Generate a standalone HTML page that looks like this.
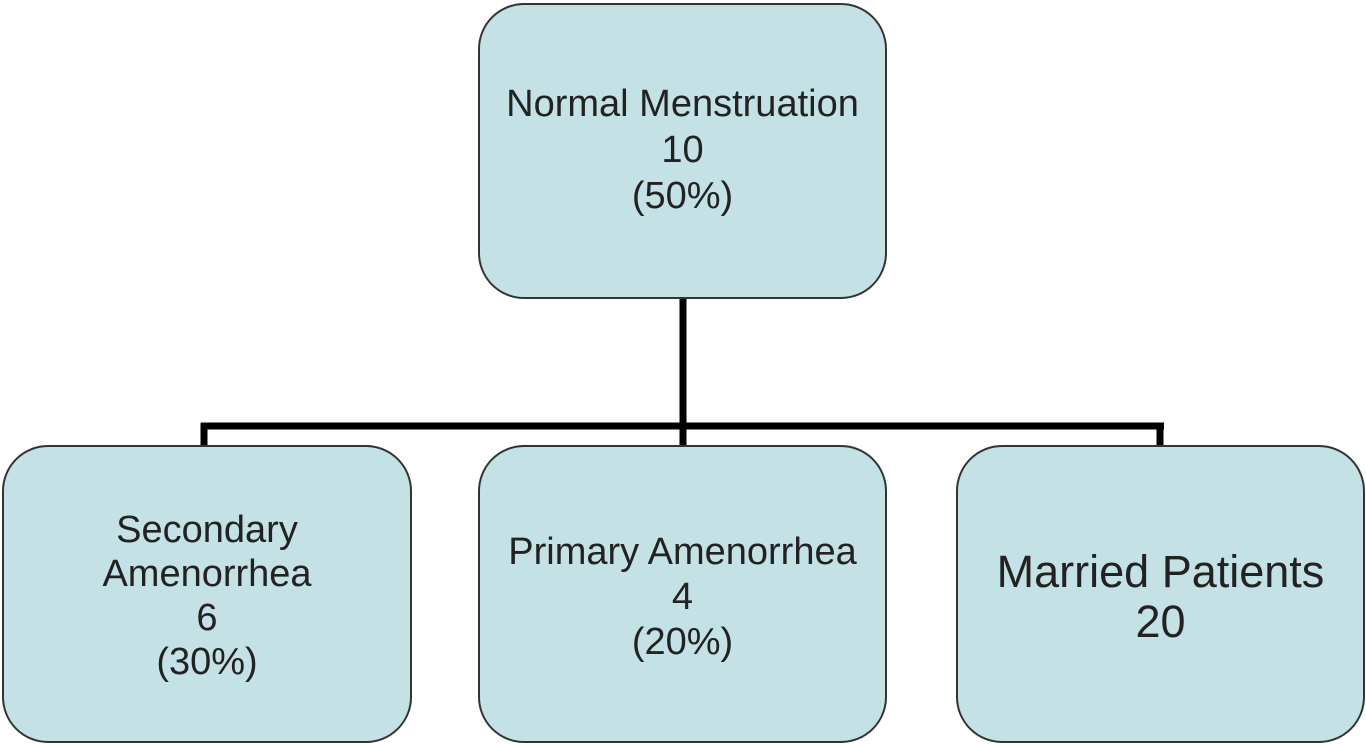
<!DOCTYPE html>
<html><head><meta charset="utf-8"><style>
body{margin:0;width:1366px;height:744px;background:#fff;position:relative;overflow:hidden;font-family:"Liberation Sans",sans-serif;}
.box{position:absolute;box-sizing:border-box;background:#c4e2e5;border:2px solid #333;border-radius:46px;display:flex;align-items:center;justify-content:center;text-align:center;color:#222;font-size:38px;line-height:45px;}
svg{position:absolute;left:0;top:0;}
</style></head><body>
<svg width="1366" height="744">
<g stroke="#000" stroke-width="7" fill="none">
<line x1="683" y1="296" x2="683" y2="447"/>
<line x1="201" y1="426" x2="1164" y2="426"/>
<line x1="204" y1="423" x2="204" y2="447"/>
<line x1="1160" y1="423" x2="1160" y2="447"/>
</g></svg>
<div class="box" style="left:478px;top:3px;width:409px;height:296px;line-height:46px"><div style="margin-top:-2px">Normal Menstruation<br>10<br>(50%)</div></div>
<div class="box" style="left:2px;top:445px;width:410px;height:298px;line-height:44px"><div style="margin-top:3px">Secondary<br>Amenorrhea<br>6<br>(30%)</div></div>
<div class="box" style="left:478px;top:445px;width:409px;height:298px"><div style="margin-top:6px">Primary Amenorrhea<br>4<br>(20%)</div></div>
<div class="box" style="left:956px;top:445px;width:409px;height:298px;font-size:45px;line-height:50px"><div style="margin-top:6px">Married Patients<br>20</div></div>
</body></html>
